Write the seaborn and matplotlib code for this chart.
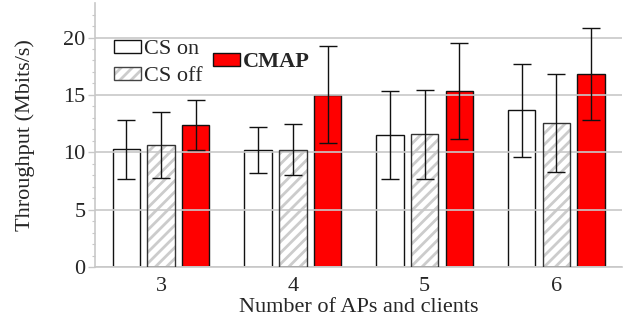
import matplotlib
matplotlib.use("Agg")
import matplotlib.pyplot as plt
from matplotlib.patches import Rectangle
from matplotlib.legend_handler import HandlerTuple
import seaborn as sns
import pandas as pd
import numpy as np

groups = ["3", "4", "5", "6"]
series = ["CS on", "CS off", "CMAP"]
cs_on = [10.26, 10.20, 11.51, 13.69]
cs_off = [10.61, 10.23, 11.57, 12.56]
cmap = [12.38, 15.02, 15.34, 16.81]
cs_on_lo = [7.69, 8.17, 7.63, 9.60]
cs_on_hi = [12.84, 12.17, 15.34, 17.71]
cs_off_lo = [7.74, 8.03, 7.65, 8.26]
cs_off_hi = [13.48, 12.43, 15.45, 16.84]
cmap_lo = [10.17, 10.82, 11.19, 12.82]
cmap_hi = [14.58, 19.25, 19.48, 20.82]

sns.set_theme(style="white")
plt.rcParams['font.family'] = ['Liberation Serif', 'DejaVu Serif']
plt.rcParams['hatch.linewidth'] = 2.0

vals = {"CS on": cs_on, "CS off": cs_off, "CMAP": cmap}
los = {"CS on": cs_on_lo, "CS off": cs_off_lo, "CMAP": cmap_lo}
his = {"CS on": cs_on_hi, "CS off": cs_off_hi, "CMAP": cmap_hi}
rows = []
for s in series:
    for g, v in zip(groups, vals[s]):
        rows.append({"group": g, "series": s, "value": v})
df = pd.DataFrame(rows)

FS = 16
fig = plt.figure(figsize=(6.26, 3.23), dpi=100)
ax = fig.add_axes([0.152, 0.1734, 0.842, 0.817])

palette = {"CS on": "white", "CS off": "white", "CMAP": "#ff0000"}
sns.barplot(data=df, x="group", y="value", hue="series", order=groups,
            hue_order=series, palette=palette, saturation=1, width=0.79, gap=0.21,
            edgecolor="#111111", linewidth=1.0, errorbar=None, legend=False,
            ax=ax, zorder=2)

bars = [p for p in ax.patches]
for si, s in enumerate(series):
    for gi in range(len(groups)):
        p = bars[si * len(groups) + gi]
        cx = p.get_x() + p.get_width() / 2
        v = vals[s][gi]
        ax.errorbar(cx, v, yerr=[[v - los[s][gi]], [his[s][gi] - v]],
                    fmt='none', ecolor='#111111', elinewidth=1.0,
                    capsize=6.5, capthick=1.0, zorder=4)
        if s == "CS off":
            p.set_hatch('///')
            p.set_edgecolor('#cccccc')
            p.set_linewidth(0)
            ax.add_patch(Rectangle((p.get_x(), p.get_y()), p.get_width(),
                                   p.get_height(), facecolor='none',
                                   edgecolor='#333333', linewidth=1.0, zorder=3))

ax.set_xlim(-0.5, 3.5)
ax.set_ylim(0, 23)
ax.set_yticks([0, 5, 10, 15, 20])
ax.set_yticks(np.arange(0, 23, 1), minor=True)
ax.yaxis.grid(True, which='major', color='#c8c8c8', linewidth=1.2)
ax.set_axisbelow(False)
for sp in ["top", "right"]:
    ax.spines[sp].set_visible(False)
for sp in ["left", "bottom"]:
    ax.spines[sp].set_color('#c8c8c8')
    ax.spines[sp].set_linewidth(1.2)
ax.tick_params(axis='y', which='major', length=5, color='#c8c8c8', width=1,
               labelsize=FS, left=True, pad=2)
ax.tick_params(axis='y', which='minor', length=2.5, color='#c8c8c8', width=0.8,
               left=True)
ax.tick_params(axis='x', length=0, labelsize=FS, pad=7)
ax.set_xlabel("Number of APs and clients", fontsize=FS, labelpad=2)
ax.set_ylabel("Throughput (Mbits/s)", fontsize=FS, labelpad=20)

h_on = Rectangle((0, 0), 1, 1, facecolor='white', edgecolor='#111111', linewidth=1)
h_off_fill = Rectangle((0, 0), 1, 1, facecolor='white', edgecolor='#cccccc',
                       hatch='///', linewidth=0)
h_off_edge = Rectangle((0, 0), 1, 1, facecolor='none', edgecolor='#444444',
                       linewidth=1)
h_cm = Rectangle((0, 0), 1, 1, facecolor='#ff0000', edgecolor='#111111', linewidth=1)
leg1 = ax.legend([h_on, (h_off_fill, h_off_edge)], ["CS on", "CS off"],
                 handler_map={tuple: HandlerTuple(ndivide=1, pad=0)},
                 loc='center left',
                 bbox_to_anchor=(0.036, 0.773), frameon=False, fontsize=FS,
                 handlelength=1.2, handleheight=0.5, handletextpad=0.15,
                 labelspacing=0.35, borderaxespad=0, borderpad=0)
ax.add_artist(leg1)
leg2 = ax.legend([h_cm], ["CMAP"], loc='center left',
                 bbox_to_anchor=(0.224, 0.775), frameon=False,
                 prop={'size': FS, 'weight': 'bold'},
                 handlelength=1.2, handleheight=0.5, handletextpad=0.15,
                 borderaxespad=0, borderpad=0)

fig.savefig("out.png", dpi=100)
